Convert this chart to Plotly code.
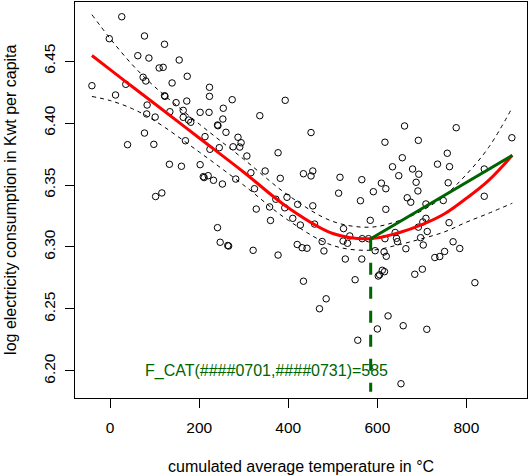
import plotly.graph_objects as go

# ---- observed data (cumulated avg temperature, log consumption) ----
temp = [26, -2, 77, 122, 62, 87, 155, 110, 119, -41, 35, 74, 80, 139, 173, 12, 122, 123,
        83, 82, 101, 134, 148, 172, 164, 164, 176, 181, 223, 223, 202, 222, 274, 254, 253,
        241, 242, 260, 336, 77, 39, 98, 169, 213, 224, 245, 276, 287, 294, 291, 307, 133,
        160, 202, 209, 211, 220, 232, 252, 282, 316, 324, 328, 348, 102, 116, 241, 247,
        264, 266, 321,
        451, 393, 377, 434, 455, 451, 382, 516, 565, 397, 372, 421, 358, 392, 455, 360,
        410, 427, 459, 513, 524, 538, 523, 533, 476, 420, 431, 442, 480, 377, 528, 565,
        566, 580, 584, 562, 591, 595,
        617, 692, 661, 777, 902, 656, 634, 648, 679, 693, 735, 757, 762, 759, 687, 609,
        619, 691, 667, 675, 709, 748, 840, 840, 619, 709, 702, 692, 712, 761, 640, 645,
        617, 697, 703, 664, 615, 620, 770, 785, 729, 740, 751, 701, 684, 611, 616, 602,
        605, 550, 434, 485, 470, 624, 658, 600, 711, 556, 819, 653, 643]
cons = [6.4857, 6.4680, 6.4702, 6.4635, 6.4543, 6.4524, 6.4508, 6.4444, 6.4449, 6.4301,
        6.4312, 6.4369, 6.4339, 6.4323, 6.4377, 6.4226, 6.4220, 6.4215, 6.4145, 6.4073,
        6.4048, 6.4091, 6.4164, 6.4177, 6.4102, 6.4046, 6.4024, 6.4006, 6.4288, 6.4215,
        6.4086, 6.4086, 6.4188, 6.4119, 6.4032, 6.3984, 6.3978, 6.3925, 6.4059, 6.3919,
        6.3825, 6.3828, 6.3857, 6.3890, 6.3788, 6.3801, 6.3808, 6.3885, 6.3841, 6.3806,
        6.3734, 6.3667, 6.3651, 6.3664, 6.3567, 6.3560, 6.3575, 6.3538, 6.3508, 6.3548,
        6.3599, 6.3470, 6.3306, 6.3613, 6.3407, 6.3436, 6.3156, 6.3038, 6.3012, 6.3008,
        6.2973,
        6.3923, 6.4183, 6.3760, 6.3591, 6.3613, 6.3573, 6.3554, 6.3562, 6.3543, 6.3401,
        6.3385, 6.3344, 6.3323, 6.3316, 6.3332, 6.3214, 6.3231, 6.3177, 6.3185, 6.3434,
        6.3148, 6.3089, 6.3048, 6.3030, 6.3044, 6.3020, 6.2994, 6.2990, 6.2968, 6.2935,
        6.2903, 6.2903, 6.3067, 6.3067, 6.3215, 6.3373, 6.3446, 6.2970,
        6.3845, 6.3860, 6.3976, 6.3962, 6.3881, 6.3720, 6.3647, 6.3575, 6.3629, 6.3587,
        6.3668, 6.3756, 6.3648, 6.3518, 6.3522, 6.3515, 6.3470, 6.3452, 6.3397, 6.3361,
        6.3347, 6.3375, 6.3629, 6.3409, 6.3304, 6.3231, 6.3202, 6.3160, 6.3125, 6.3196,
        6.3117, 6.3043, 6.3067, 6.3075, 6.3016, 6.2986, 6.2960, 6.2925, 6.3042, 6.2988,
        6.2915, 6.2923, 6.2964, 6.2821, 6.2780, 6.2812, 6.2801, 6.2766, 6.2776, 6.2736,
        6.2724, 6.2582, 6.2502, 6.2444, 6.2365, 6.2339, 6.2336, 6.2248, 6.2712, 6.1897,
        6.3070]

# ---- smooth fit and its confidence band ----
fit_x = [-41, 0, 50, 100, 200, 300, 400, 500, 585, 650, 700, 750, 800, 850, 903]
fit_y = [6.4544, 6.4431, 6.4292, 6.4155, 6.3879, 6.3603, 6.3316, 6.3109, 6.3067,
         6.3117, 6.3180, 6.3266, 6.3393, 6.3538, 6.3739]
fit_upper = [6.4874, 6.4681, 6.4469, 6.4292, 6.3992, 6.3708, 6.3417, 6.3206, 6.3160,
             6.3214, 6.3293, 6.3411, 6.3586, 6.3804, 6.4125]
fit_lower = [6.4214, 6.4181, 6.4115, 6.4018, 6.3766, 6.3498, 6.3215, 6.3012, 6.2974,
             6.3020, 6.3067, 6.3121, 6.3200, 6.3272, 6.3353]

# ---- breakpoint ----
break_x = 585
break_y = 6.3067
end_x = 903
end_y = 6.3739
vline_bottom = 6.1833
label_text = "F_CAT(####0701,####0731)=585"
label_x = 350
label_y = 6.20

x_ticks = [0, 200, 400, 600, 800]
y_ticks = [6.20, 6.25, 6.30, 6.35, 6.40, 6.45]

FONT = "Liberation Sans, Arial, sans-serif"

fig = go.Figure()
fig.add_trace(go.Scatter(x=temp, y=cons, mode="markers",
                         marker=dict(symbol="circle-open", size=6.5, color="black",
                                     line=dict(width=1, color="black"))))
fig.add_trace(go.Scatter(x=fit_x, y=fit_upper, mode="lines", line_shape="spline",
                         line=dict(color="black", width=1, dash="4px,4px")))
fig.add_trace(go.Scatter(x=fit_x, y=fit_lower, mode="lines", line_shape="spline",
                         line=dict(color="black", width=1, dash="4px,4px")))
fig.add_trace(go.Scatter(x=fit_x, y=fit_y, mode="lines", line_shape="spline",
                         line=dict(color="#FF0000", width=3)))
fig.add_trace(go.Scatter(x=[break_x, end_x], y=[break_y, end_y], mode="lines",
                         line=dict(color="#006400", width=3)))
fig.add_trace(go.Scatter(x=[break_x, break_x], y=[break_y, vline_bottom], mode="lines",
                         line=dict(color="#006400", width=3, dash="12px,12px")))

fig.add_annotation(x=label_x, y=label_y, text=label_text, showarrow=False,
                   font=dict(family=FONT, size=16, color="#006400"),
                   xanchor="center", yanchor="middle")
fig.add_annotation(xref="paper", yref="paper", x=0.5, y=-0.172,
                   text="cumulated average temperature in °C", showarrow=False,
                   font=dict(family=FONT, size=16, color="black"),
                   xanchor="center", yanchor="middle")
fig.add_annotation(xref="paper", yref="paper", x=-0.144, y=0.5, textangle=-90,
                   text="log electricity consumption in Kwt per capita", showarrow=False,
                   font=dict(family=FONT, size=16, color="black"),
                   xanchor="center", yanchor="middle")

fig.update_layout(
    width=529, height=475, showlegend=False,
    margin=dict(l=75, r=2, t=2, b=77),
    paper_bgcolor="white", plot_bgcolor="white",
    font=dict(family=FONT, size=15, color="black"),
    xaxis=dict(range=[-79, 936], tickvals=x_ticks, ticks="outside", ticklen=9,
               tickcolor="black", showline=True, mirror=True, linecolor="black",
               linewidth=1, showgrid=False, zeroline=False, ticklabelstandoff=6,
               tickfont=dict(size=15.5)),
    yaxis=dict(range=[6.1782, 6.4976], tickvals=y_ticks, tickformat=".2f",
               ticks="outside", ticklen=9, tickcolor="black", showline=True,
               mirror=True, linecolor="black", linewidth=1, showgrid=False,
               zeroline=False, tickangle=-90, ticklabelstandoff=4,
               tickfont=dict(size=15.5)),
)

fig.write_html("out.html")
